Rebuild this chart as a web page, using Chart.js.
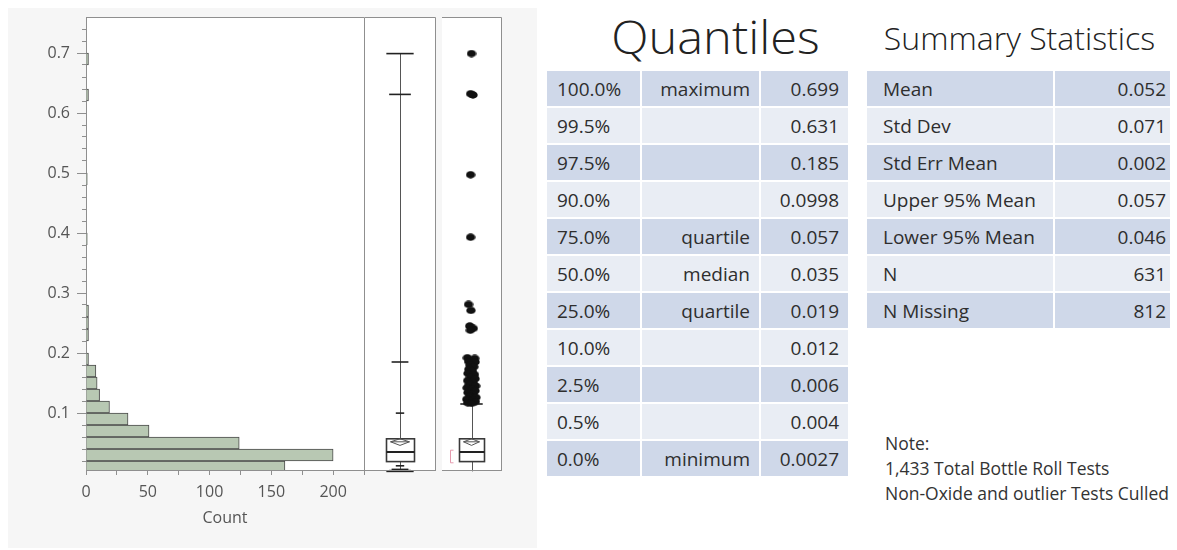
<!DOCTYPE html>
<html lang="en">
<head>
<meta charset="utf-8">
<title>Bottle roll test distribution</title>
<script src="https://cdn.jsdelivr.net/npm/chart.js@4.4.1/dist/chart.umd.min.js"></script>
<style>
  html, body { margin: 0; padding: 0; background: #fff; }
  body { width: 1177px; height: 550px; position: relative; overflow: hidden;
         font-family: "Open Sans", "Noto Sans", sans-serif; color: #333; }
  #panel { position: absolute; left: 8px; top: 8px; width: 529px; height: 540px; background: #f6f6f6; }
  canvas.plot { position: absolute; top: 8px; }
  #hist { left: 8px; }
  #qbox { left: 365px; }
  #obox { left: 436px; }
  .title { position: absolute; color: #222; text-align: center; white-space: nowrap; font-weight: 300; }
  #qTitle { left: 560px; width: 311px; top: 13px; font-size: 46px; line-height: 46px; transform: scaleX(1.06); transform-origin: 50% 50%; }
  #sTitle { left: 867px; width: 305px; top: 22px; font-size: 32px; line-height: 32px; }
  .grid { position: absolute; display: grid; gap: 2px; background: #fff; font-size: 19px; color: #2e2e2e; }
  .grid div { display: flex; align-items: center; white-space: nowrap; }
  #qTable { left: 547px; top: 71px; grid-template-columns: 93px 117px 87px; grid-auto-rows: 35px; }
  #sTable { left: 867px; top: 71px; grid-template-columns: 186px 115px; grid-auto-rows: 35px; }
  .dark { background: #cfd8e9; }
  .light { background: #e9edf4; }
  .l { justify-content: flex-start; padding-left: 10px; }
  .r { justify-content: flex-end; padding-right: 9px; }
  #sTable .l { padding-left: 16px; }
  #sTable .r { padding-right: 4px; }
  #note { position: absolute; left: 885px; top: 431px; font-size: 17.5px; line-height: 25px; color: #333; white-space: nowrap; }
</style>
</head>
<body>
<div id="panel"></div>
<canvas id="hist" class="plot" width="357" height="540"></canvas>
<canvas id="qbox" class="plot" width="71" height="540"></canvas>
<canvas id="obox" class="plot" width="71" height="540"></canvas>

<div id="qTitle" class="title">Quantiles</div>
<div id="qTable" class="grid"></div>
<div id="sTitle" class="title">Summary Statistics</div>
<div id="sTable" class="grid"></div>
<div id="note">Note:<br>1,433 Total Bottle Roll Tests<br>Non-Oxide and outlier Tests Culled</div>

<script>
// ---------- histogram bins (bin start, count) ----------
const binStarts = [0.00, 0.02, 0.04, 0.06, 0.08, 0.10, 0.12, 0.14, 0.16, 0.18, 0.22, 0.24, 0.26, 0.38, 0.48, 0.62, 0.68];
const binCounts = [161, 200, 124, 51, 34, 19, 11, 9, 8, 2, 2, 2, 2, 1, 1, 2, 2];
const binWidth = 0.02;

// ---------- axes ----------
const yMin = 0.005, yMax = 0.76;
const yTicks = [0.02, 0.04, 0.06, 0.08, 0.10, 0.12, 0.14, 0.16, 0.18, 0.20, 0.22, 0.24, 0.26, 0.28, 0.30,
                0.32, 0.34, 0.36, 0.38, 0.40, 0.42, 0.44, 0.46, 0.48, 0.50, 0.52, 0.54, 0.56, 0.58, 0.60,
                0.62, 0.64, 0.66, 0.68, 0.70, 0.72, 0.74];
const yMajorTicks = [0.1, 0.2, 0.3, 0.4, 0.5, 0.6, 0.7];
const countMax = 225;
const countTicks = [0, 25, 50, 75, 100, 125, 150, 175, 200, 225];
const countLabels = [0, 50, 100, 150, 200];

// ---------- quantiles ----------
const quantilePct   = ['100.0%', '99.5%', '97.5%', '90.0%', '75.0%', '50.0%', '25.0%', '10.0%', '2.5%', '0.5%', '0.0%'];
const quantileName  = ['maximum', '', '', '', 'quartile', 'median', 'quartile', '', '', '', 'minimum'];
const quantileValue = [0.699, 0.631, 0.185, 0.0998, 0.057, 0.035, 0.019, 0.012, 0.006, 0.004, 0.0027];
const quantileText  = ['0.699', '0.631', '0.185', '0.0998', '0.057', '0.035', '0.019', '0.012', '0.006', '0.004', '0.0027'];

// ---------- summary statistics ----------
const statNames  = ['Mean', 'Std Dev', 'Std Err Mean', 'Upper 95% Mean', 'Lower 95% Mean', 'N', 'N Missing'];
const statValues = [0.052, 0.071, 0.002, 0.057, 0.046, 631, 812];
const statText   = ['0.052', '0.071', '0.002', '0.057', '0.046', '631', '812'];

// ---------- outlier box plot ----------
const upperWhisker = 0.115;
const shortestHalf = [0.017, 0.038];
const outlierValues = [0.699, 0.632, 0.630, 0.497, 0.393, 0.281, 0.271, 0.245, 0.241, 0.238,
  0.192, 0.191, 0.186, 0.185, 0.180, 0.177, 0.173, 0.170, 0.166, 0.164, 0.160, 0.157, 0.154, 0.151,
  0.148, 0.145, 0.142, 0.140, 0.137, 0.134, 0.131, 0.128, 0.126, 0.123, 0.121, 0.119, 0.117, 0.116];
const outlierJitter = [0.00, -0.03, 0.05, -0.03, -0.03, -0.10, -0.02, -0.06, 0.06, -0.04,
  -0.14, 0.11, -0.10, 0.12, -0.05, 0.08, -0.09, 0.03, -0.12, 0.10, -0.04, 0.12, -0.13, 0.05,
  -0.08, 0.14, -0.15, 0.02, 0.12, -0.12, 0.06, -0.06, 0.15, -0.16, 0.04, 0.13, -0.13, 0.00];

// ---------- tables ----------
function cell(parent, text, cls) {
  const d = document.createElement('div');
  d.className = cls;
  d.textContent = text;
  parent.appendChild(d);
}
const qTable = document.getElementById('qTable');
quantilePct.forEach((p, i) => {
  const shade = i % 2 === 0 ? 'dark' : 'light';
  cell(qTable, p, 'l ' + shade);
  cell(qTable, quantileName[i], 'r ' + shade);
  cell(qTable, quantileText[i], 'r ' + shade);
});
const sTable = document.getElementById('sTable');
statNames.forEach((n, i) => {
  const shade = i % 2 === 0 ? 'dark' : 'light';
  cell(sTable, n, 'l ' + shade);
  cell(sTable, statText[i], 'r ' + shade);
});

// ---------- shared plugins ----------
Chart.defaults.font.family = '"Open Sans", "Noto Sans", sans-serif';
const frameColor = '#8f8f8f';

// keep the plot area exactly where the layout padding puts it
function fixedSize(prop, size) {
  return s => {
    s[prop] = size;
    s.paddingTop = 0; s.paddingBottom = 0; s.paddingLeft = 0; s.paddingRight = 0;
  };
}

// white plot area plus the frame edges that the axes do not draw
const panelFrame = {
  id: 'panelFrame',
  beforeDraw(chart) {
    const { ctx, chartArea: a } = chart;
    ctx.save();
    ctx.fillStyle = '#ffffff';
    ctx.fillRect(a.left, a.top, a.right - a.left, a.bottom - a.top);
    ctx.restore();
  },
  afterDraw(chart, args, opts) {
    const { ctx, chartArea: a } = chart;
    const t = Math.round(a.top) + 0.5, b = Math.round(a.bottom) + 0.5;
    const r = Math.round(a.right) + 0.5, l = Math.round(a.left);
    ctx.save();
    ctx.strokeStyle = frameColor;
    ctx.lineWidth = 1;
    ctx.beginPath();
    ctx.moveTo(l, t); ctx.lineTo(r, t);
    ctx.moveTo(r, t); ctx.lineTo(r, b);
    if (opts.bottom) { ctx.moveTo(l, b); ctx.lineTo(r + 0.5, b); }
    ctx.stroke();
    ctx.restore();
  }
};

// longer tick marks at the labelled y values
const majorTickMarks = {
  id: 'majorTickMarks',
  afterDraw(chart) {
    const { ctx, chartArea: a, scales: { y } } = chart;
    ctx.save();
    ctx.strokeStyle = frameColor;
    ctx.lineWidth = 1;
    ctx.beginPath();
    yMajorTicks.forEach(v => {
      const py = Math.round(y.getPixelForValue(v)) + 0.5;
      ctx.moveTo(a.left - 9, py);
      ctx.lineTo(a.left - 4, py);
    });
    ctx.stroke();
    ctx.restore();
  }
};

// box, whiskers, quantile marks, means diamond and shortest-half bracket
const boxPlot = {
  id: 'boxPlot',
  beforeDatasetsDraw(chart, args, o) {
    const { ctx, scales: { x, y } } = chart;
    const X = v => x.getPixelForValue(v);
    const Y = v => y.getPixelForValue(v);
    const cx = Math.round(X(0)) + 0.5;
    ctx.save();
    ctx.lineCap = 'butt';

    // whiskers
    ctx.strokeStyle = '#555';
    ctx.lineWidth = 1;
    ctx.beginPath();
    ctx.moveTo(cx, Y(o.q3)); ctx.lineTo(cx, Y(o.whiskerHigh));
    ctx.moveTo(cx, Y(o.q1)); ctx.lineTo(cx, Y(o.whiskerLow));
    ctx.stroke();

    // horizontal marks along the whisker
    ctx.strokeStyle = '#222';
    ctx.lineWidth = 1.6;
    o.marks.forEach(([v, w]) => {
      ctx.beginPath();
      ctx.moveTo(X(-w), Y(v)); ctx.lineTo(X(w), Y(v));
      ctx.stroke();
    });

    // box
    const bl = Math.round(X(-o.boxHalf)) + 0.5, br = Math.round(X(o.boxHalf)) + 0.5;
    const bt = Y(o.q3), bb = Y(o.q1);
    ctx.fillStyle = '#ffffff';
    ctx.fillRect(bl, bt, br - bl, bb - bt);
    ctx.strokeStyle = '#3a3a3a';
    ctx.lineWidth = 1.6;
    ctx.strokeRect(bl, bt, br - bl, bb - bt);

    // median
    ctx.lineWidth = 2;
    ctx.strokeStyle = '#222';
    ctx.beginPath();
    ctx.moveTo(bl, Y(o.median)); ctx.lineTo(br, Y(o.median));
    ctx.stroke();

    // means diamond
    ctx.lineWidth = 1;
    ctx.strokeStyle = '#555';
    ctx.beginPath();
    ctx.moveTo(X(0), Y(o.meanHigh));
    ctx.lineTo(X(o.diamondHalf), Y(o.mean));
    ctx.lineTo(X(0), Y(o.meanLow));
    ctx.lineTo(X(-o.diamondHalf), Y(o.mean));
    ctx.closePath();
    ctx.moveTo(X(-o.diamondHalf), Y(o.mean)); ctx.lineTo(X(o.diamondHalf), Y(o.mean));
    ctx.stroke();

    // shortest half bracket
    if (o.shortHalf) {
      const sx = Math.round(X(o.shortHalf.at)) + 0.5;
      ctx.strokeStyle = '#e59aae';
      ctx.lineWidth = 1;
      ctx.beginPath();
      ctx.moveTo(sx + 3, Y(o.shortHalf.range[1]));
      ctx.lineTo(sx, Y(o.shortHalf.range[1]));
      ctx.lineTo(sx, Y(o.shortHalf.range[0]));
      ctx.lineTo(sx + 3, Y(o.shortHalf.range[0]));
      ctx.stroke();
    }
    ctx.restore();
  }
};

// ---------- histogram ----------
new Chart(document.getElementById('hist'), {
  type: 'bar',
  data: {
    datasets: [{
      data: binStarts.map((s, i) => ({ x: binCounts[i], y: s + binWidth / 2 })),
      backgroundColor: '#b8c8b3',
      borderColor: '#4b4b4b',
      borderWidth: 1,
      barPercentage: 1,
      categoryPercentage: 1
    }]
  },
  options: {
    indexAxis: 'y',
    responsive: false,
    animation: false,
    events: [],
    layout: { padding: { top: 9, right: 1, bottom: 0, left: 0 } },
    plugins: { legend: { display: false }, tooltip: { enabled: false }, panelFrame: { bottom: false } },
    scales: {
      y: {
        type: 'linear', min: yMin, max: yMax, offset: false,
        afterBuildTicks: s => { s.ticks = yTicks.map(v => ({ value: v })); },
        afterFit: fixedSize('width', 78),
        grid: { drawOnChartArea: false, offset: false, tickLength: 4, color: frameColor },
        border: { color: frameColor },
        ticks: {
          padding: 12, color: '#555', font: { size: 16 }, autoSkip: false,
          callback: v => yMajorTicks.some(m => Math.abs(m - v) < 1e-9) ? v.toFixed(1) : ''
        }
      },
      x: {
        type: 'linear', min: 0, max: countMax, offset: false,
        afterBuildTicks: s => { s.ticks = countTicks.map(v => ({ value: v })); },
        afterFit: fixedSize('height', 78),
        grid: { drawOnChartArea: false, offset: false, tickLength: 5, color: frameColor },
        border: { color: frameColor },
        ticks: {
          padding: 8, color: '#555', font: { size: 16 }, maxRotation: 0, autoSkip: false,
          callback: v => countLabels.includes(v) ? String(v) : ''
        },
        title: { display: true, text: 'Count', color: '#555', font: { size: 16 }, padding: { top: 0, bottom: 20 } }
      }
    }
  },
  plugins: [panelFrame, majorTickMarks]
});

// ---------- box plot panels ----------
const hiddenScales = {
  x: { type: 'linear', min: -1, max: 1, display: false },
  y: { type: 'linear', min: yMin, max: yMax, display: false }
};
const boxBase = {
  q1: quantileValue[6], median: quantileValue[5], q3: quantileValue[4],
  mean: statValues[0], meanHigh: statValues[3], meanLow: statValues[4],
  boxHalf: 0.41, diamondHalf: 0.27
};

// quantile box plot
new Chart(document.getElementById('qbox'), {
  type: 'scatter',
  data: { datasets: [] },
  options: {
    responsive: false, animation: false, events: [],
    layout: { padding: { top: 9, right: 1, bottom: 78, left: 0 } },
    plugins: {
      legend: { display: false }, tooltip: { enabled: false },
      panelFrame: { bottom: true },
      boxPlot: Object.assign({}, boxBase, {
        whiskerHigh: quantileValue[0], whiskerLow: quantileValue[10],
        marks: [[quantileValue[0], 0.39], [quantileValue[1], 0.31], [quantileValue[2], 0.24], [quantileValue[3], 0.12],
                [quantileValue[7], 0.12], [quantileValue[8], 0.24], [quantileValue[9], 0.31], [quantileValue[10], 0.39]],
        shortHalf: null
      })
    },
    scales: hiddenScales
  },
  plugins: [panelFrame, boxPlot]
});

// outlier box plot with the individual outlying points
function dotImage(w, h) {
  const c = document.createElement('canvas');
  c.width = w; c.height = h;
  const g = c.getContext('2d');
  g.fillStyle = '#111';
  g.beginPath();
  g.ellipse(w / 2, h / 2, w / 2 - 0.3, h / 2 - 0.3, 0, 0, Math.PI * 2);
  g.fill();
  return c;
}
new Chart(document.getElementById('obox'), {
  type: 'scatter',
  data: {
    datasets: [{
      data: outlierValues.map((v, i) => ({ x: outlierJitter[i], y: v })),
      pointStyle: dotImage(10, 8),
      pointRadius: 5
    }]
  },
  options: {
    responsive: false, animation: false, events: [],
    layout: { padding: { top: 9, right: 1, bottom: 78, left: 0 } },
    plugins: {
      legend: { display: false }, tooltip: { enabled: false },
      panelFrame: { bottom: true },
      boxPlot: Object.assign({}, boxBase, {
        whiskerHigh: upperWhisker, whiskerLow: quantileValue[10],
        marks: [[upperWhisker, 0.38]],
        shortHalf: { at: -0.72, range: shortestHalf }
      })
    },
    scales: hiddenScales
  },
  plugins: [panelFrame, boxPlot]
});
</script>
</body>
</html>
